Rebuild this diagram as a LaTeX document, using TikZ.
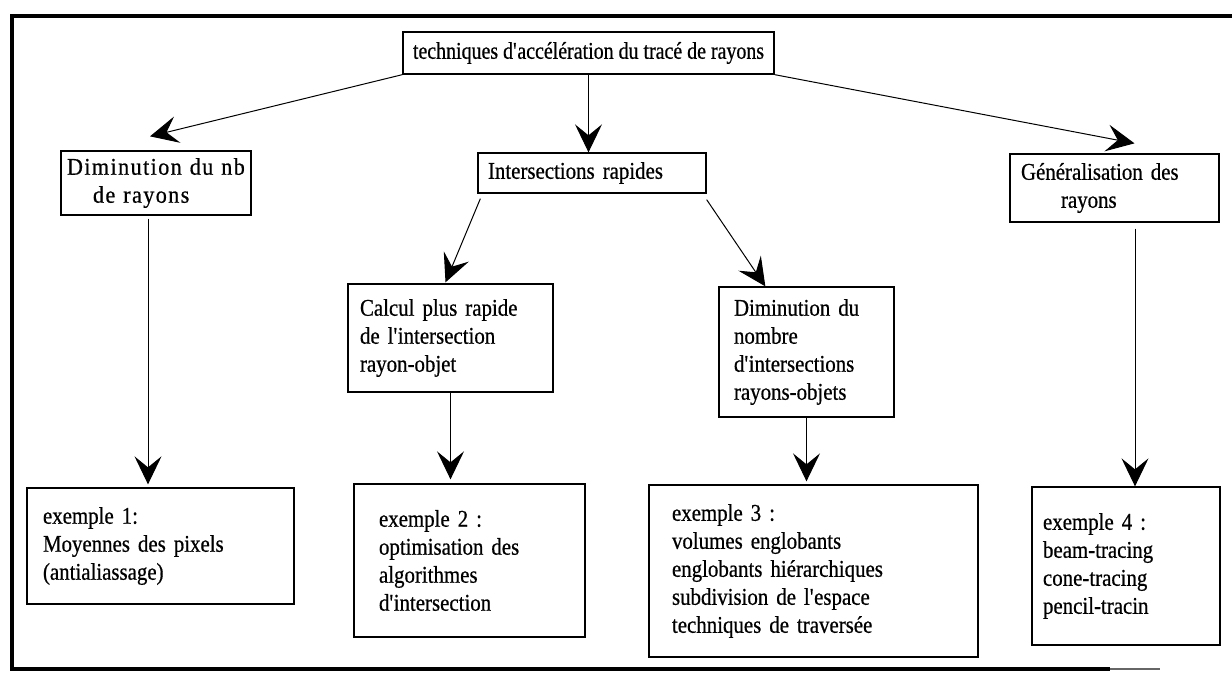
\documentclass[tikz,border=0pt]{standalone}
\usepackage{fontspec}
\setmainfont{Liberation Serif}[FakeBold=0.6,FakeStretch=0.87]
\newfontfamily\topfont{Liberation Serif}[FakeBold=0.6,FakeStretch=0.83]
\newfontfamily\spacedfont{Liberation Serif}[LetterSpace=6,FakeBold=0.6,FakeStretch=0.92]
\newcommand{\ap}{\textquotesingle}
\usetikzlibrary{arrows.meta,calc}
\begin{document}
\begin{tikzpicture}[x=1pt,y=-1pt,
  box/.style={draw, line width=1.3pt, inner sep=0pt, align=left,
    font=\fontsize{24}{28}\selectfont},
  arr/.style={line width=1pt, -{Stealth[length=28pt,width=27pt,inset=11pt]}},
  frame/.style={line width=4pt}]
\useasboundingbox (0,0) rectangle (1232,674);
% frame
\draw[frame] (1232,16) -- (12,16) -- (12,669) -- (1110,669);
\draw[line width=2pt, black!60] (1110,669) -- (1160,669);
% nodes
\node[box, align=center, minimum width=371, minimum height=42, font=\topfont\fontsize{24}{28}\selectfont] (top) at (588.5,53)
  {techniques d\ap accélération du tracé de rayons};
\node[box, minimum width=190, minimum height=64, text width=178] (dimnb) at (156,183)
  {\spacedfont Diminution du nb\\\hspace*{26pt}de rayons};
\node[box, minimum width=228, minimum height=40, text width=208] (inter) at (592,173)
  {Intersections rapides};
\node[box, minimum width=209, minimum height=68, text width=187] (gen) at (1114.5,188)
  {Généralisation des\\\hspace*{40pt}rayons};
\node[box, minimum width=205, minimum height=108, text width=181] (calcul) at (450.5,338)
  {Calcul plus rapide\\de l\ap intersection\\rayon-objet};
\node[box, minimum width=175, minimum height=130, text width=145] (dimnom) at (806.5,352)
  {Diminution du\\nombre\\d\ap intersections\\rayons-objets};
\node[box, minimum width=267, minimum height=116, text width=235] (ex1) at (160.5,546)
  {exemple 1:\\Moyennes des pixels\\(antialiassage)};
\node[box, minimum width=231, minimum height=153, text width=181] (ex2) at (469.5,560.5)
  {exemple 2 :\\optimisation des\\algorithmes\\d\ap intersection};
\node[box, minimum width=329, minimum height=172, text width=283] (ex3) at (813.5,571)
  {exemple 3 :\\volumes englobants\\englobants hiérarchiques\\subdivision de l\ap espace\\techniques de traversée};
\node[box, minimum width=188, minimum height=158, text width=166] (ex4) at (1126,566)
  {exemple 4 :\\beam-tracing\\cone-tracing\\pencil-tracin};
% connector start/end points
\coordinate (e1) at ($(dimnb.north)+(-6,-14)$);
\coordinate (e3) at ($(gen.north)+(20,-10)$);
\coordinate (s4) at ($(dimnb.south)+(-8,3)$);
\coordinate (s5) at ($(inter.south west)+(3,5)$);
\coordinate (e5) at ($(calcul.north)+(-5,-1)$);
\coordinate (s6) at ($(inter.south east)+(0,6)$);
\coordinate (e6) at ($(dimnom.north west)+(47,0)$);
\coordinate (s9) at ($(gen.south)+(20.5,6)$);
% connectors
\draw[arr] (top.south west) -- (e1);
\draw[arr] (top.south) -- (top.south |- inter.north);
\draw[arr] (top.south east) -- (e3);
\draw[arr, shorten >=3pt] (s4) -- (s4 |- ex1.north);
\draw[arr] (s5) -- (e5);
\draw[arr] (s6) -- (e6);
\draw[arr, shorten >=4pt] (calcul.south) -- (calcul.south |- ex2.north);
\draw[arr, shorten >=3pt] (dimnom.south) -- (dimnom.south |- ex3.north);
\draw[arr] (s9) -- (s9 |- ex4.north);
\end{tikzpicture}
\end{document}
